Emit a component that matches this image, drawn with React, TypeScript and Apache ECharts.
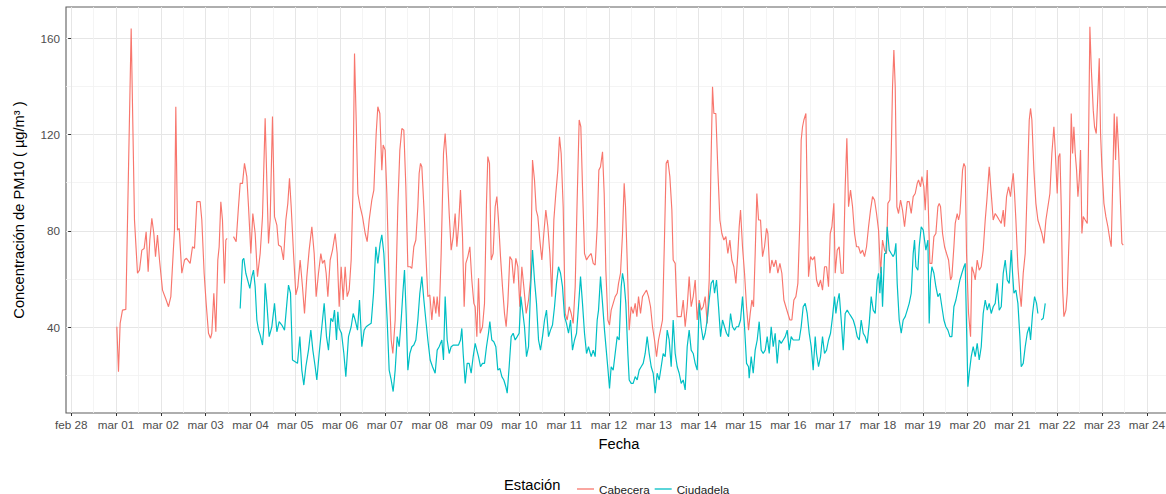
import { useEffect, useRef } from 'react';
import * as echarts from 'echarts';

// x values are days counted from feb 28 00:00 (0 = feb 28, 1 = mar 01, ...)
const xTickDays = [0, 1, 2, 3, 4, 5, 6, 7, 8, 9, 10, 11, 12, 13, 14, 15, 16, 17, 18, 19, 20, 21, 22, 23, 24];
const xTickLabels = ['feb 28', 'mar 01', 'mar 02', 'mar 03', 'mar 04', 'mar 05', 'mar 06', 'mar 07', 'mar 08', 'mar 09', 'mar 10', 'mar 11', 'mar 12', 'mar 13', 'mar 14', 'mar 15', 'mar 16', 'mar 17', 'mar 18', 'mar 19', 'mar 20', 'mar 21', 'mar 22', 'mar 23', 'mar 24'];
const xMinorDays = [0.5, 1.5, 2.5, 3.5, 4.5, 5.5, 6.5, 7.5, 8.5, 9.5, 10.5, 11.5, 12.5, 13.5, 14.5, 15.5, 16.5, 17.5, 18.5, 19.5, 20.5, 21.5, 22.5, 23.5, 24.5];
const yTicks = [40, 80, 120, 160];
const yMinorTicks = [20, 60, 100, 140];

const cabeceraTime = [
  1.019, 1.056, 1.093, 1.145, 1.220, 1.339, 1.413, 1.480, 1.525, 1.577, 1.629, 1.673, 1.718, 1.755, 1.800, 1.844, 1.882, 1.926, 1.971,
  2.038, 2.120, 2.172, 2.224, 2.276, 2.305, 2.335, 2.372, 2.410, 2.469, 2.529, 2.573, 2.655, 2.707, 2.752, 2.804, 2.878, 2.915, 2.967,
  3.012, 3.064, 3.109, 3.138, 3.183, 3.228, 3.272, 3.302, 3.339, 3.376, 3.421, 3.451, 3.480, 3.550, 3.622, 3.681, 3.733, 3.771, 3.823, 3.867, 3.919, 3.957,
  4.009, 4.053, 4.105, 4.157, 4.217, 4.269, 4.328, 4.403, 4.440, 4.492, 4.537, 4.589, 4.626, 4.685, 4.737, 4.790, 4.834, 4.871, 4.909, 4.961,
  5.013, 5.057, 5.109, 5.161, 5.206, 5.258, 5.310, 5.370, 5.422, 5.466, 5.518, 5.570, 5.608, 5.652, 5.689, 5.727, 5.779, 5.831, 5.890, 5.935, 5.980,
  6.024, 6.069, 6.113, 6.158, 6.203, 6.247, 6.284, 6.322, 6.359, 6.396, 6.448, 6.500, 6.560, 6.604, 6.649, 6.708, 6.753, 6.805, 6.842, 6.887, 6.931, 6.961,
  7.006, 7.043, 7.095, 7.140, 7.177, 7.229, 7.288, 7.333, 7.378, 7.422, 7.467, 7.512, 7.564, 7.601, 7.645, 7.690, 7.735, 7.764, 7.794, 7.824, 7.869, 7.913, 7.958,
  8.002, 8.047, 8.091, 8.136, 8.166, 8.210, 8.255, 8.307, 8.344, 8.381, 8.434, 8.478, 8.523, 8.567, 8.605, 8.642, 8.686, 8.731, 8.768, 8.805, 8.850, 8.895, 8.939, 8.984,
  9.014, 9.051, 9.088, 9.125, 9.177, 9.222, 9.266, 9.296, 9.333, 9.371, 9.415, 9.460, 9.497, 9.534, 9.579, 9.623, 9.668, 9.705, 9.742, 9.787, 9.832, 9.876, 9.921, 9.966,
  10.010, 10.055, 10.099, 10.152, 10.204, 10.248, 10.293, 10.337, 10.375, 10.412, 10.456, 10.501, 10.546, 10.590, 10.635, 10.680, 10.724, 10.769, 10.813, 10.858, 10.895, 10.932, 10.977,
  11.022, 11.066, 11.111, 11.156, 11.200, 11.245, 11.289, 11.334, 11.371, 11.408, 11.453, 11.498, 11.542, 11.602, 11.647, 11.691, 11.736, 11.773, 11.810, 11.855, 11.892, 11.929, 11.974,
  12.011, 12.048, 12.093, 12.137, 12.182, 12.212, 12.256, 12.301, 12.338, 12.368, 12.405, 12.450, 12.494, 12.539, 12.584, 12.621, 12.658, 12.703, 12.747, 12.792, 12.836, 12.881, 12.926, 12.970,
  13.015, 13.060, 13.104, 13.149, 13.193, 13.238, 13.275, 13.312, 13.357, 13.402, 13.431, 13.476, 13.521, 13.565, 13.610, 13.655, 13.699, 13.744, 13.788, 13.833, 13.878, 13.922, 13.967,
  14.012, 14.056, 14.101, 14.145, 14.190, 14.235, 14.272, 14.309, 14.339, 14.383, 14.428, 14.473, 14.517, 14.562, 14.607, 14.651, 14.696, 14.740, 14.785, 14.830, 14.874, 14.904, 14.934, 14.978,
  15.023, 15.068, 15.112, 15.150, 15.187, 15.224, 15.261, 15.298, 15.336, 15.380, 15.425, 15.469, 15.514, 15.544, 15.588, 15.633, 15.678, 15.722, 15.767, 15.812, 15.856, 15.901, 15.945, 15.990,
  16.035, 16.079, 16.124, 16.169, 16.213, 16.258, 16.287, 16.317, 16.347, 16.392, 16.421, 16.451, 16.496, 16.540, 16.585, 16.630, 16.674, 16.719, 16.763, 16.808, 16.853, 16.897, 16.935, 16.972,
  17.016, 17.046, 17.091, 17.135, 17.180, 17.225, 17.269, 17.306, 17.344, 17.388, 17.433, 17.477, 17.522, 17.567, 17.611, 17.656, 17.701, 17.745, 17.790, 17.834, 17.879, 17.924, 17.968,
  18.013, 18.058, 18.102, 18.147, 18.191, 18.221, 18.266, 18.296, 18.325, 18.355, 18.385, 18.422, 18.459, 18.504, 18.548, 18.593, 18.653, 18.697, 18.742, 18.786, 18.831, 18.876, 18.905, 18.950, 18.980,
  19.024, 19.054, 19.099, 19.129, 19.158, 19.203, 19.248, 19.292, 19.337, 19.367, 19.396, 19.441, 19.486, 19.530, 19.575, 19.620, 19.649, 19.694, 19.724, 19.768, 19.798, 19.828, 19.857, 19.887, 19.917, 19.947, 19.976,
  20.021, 20.066, 20.095, 20.140, 20.170, 20.214, 20.259, 20.304, 20.348, 20.393, 20.430, 20.482, 20.527, 20.571, 20.616, 20.661, 20.705, 20.750, 20.795, 20.824, 20.869, 20.914, 20.958, 20.988,
  21.018, 21.047, 21.077, 21.122, 21.166, 21.196, 21.241, 21.285, 21.330, 21.375, 21.404, 21.434, 21.479, 21.523, 21.568, 21.613, 21.657, 21.702, 21.747, 21.791, 21.836, 21.880, 21.925, 21.955, 21.999,
  22.029, 22.059, 22.089, 22.118, 22.148, 22.193, 22.223, 22.267, 22.312, 22.342, 22.371, 22.401, 22.431, 22.461, 22.490, 22.520, 22.550, 22.580, 22.624, 22.669, 22.699, 22.728, 22.758, 22.803, 22.832, 22.870, 22.907, 22.937, 22.966, 22.996,
  23.041, 23.085, 23.130, 23.175, 23.204, 23.242, 23.271, 23.301, 23.331, 23.368, 23.413, 23.442, 23.472,
];
const cabeceraPM10 = [
  40.2, 21.5, 41.6, 47.1, 47.4, 164.0, 84.5, 62.4, 63.7, 72.0, 72.7, 79.6, 63.0, 76.2, 85.2, 79.0, 69.3, 78.3, 67.9,
  55.4, 51.3, 48.5, 52.7, 70.6, 80.3, 131.5, 80.3, 81.0, 62.4, 67.9, 68.6, 66.5, 73.4, 72.7, 92.1, 92.1, 84.5, 62.4,
  49.9, 37.5, 35.4, 37.5, 54.1, 38.1, 67.9, 73.4, 92.1, 84.5, 58.2, 76.2, 76.9, null, 77.6, 75.5, 90.0, 99.7, 99.7, 108.0, 102.5, 90.0,
  70.6, 87.2, 79.0, 61.0, 70.6, 85.9, 126.7, 74.8, 84.5, 127.4, 85.9, 82.4, 74.1, 73.4, 67.9, 84.5, 91.4, 101.8, 90.0, 70.6,
  53.4, 56.8, 67.9, 56.8, 45.7, 61.0, 72.0, 81.7, 70.6, 52.7, 62.4, 70.6, 66.5, 67.9, 62.4, 52.7, 67.9, 72.0, 78.9, 70.6, 48.5,
  65.1, 51.3, 65.1, 52.7, 55.4, 67.9, 94.2, 153.6, 126.0, 95.5, 90.0, 85.9, 78.9, 75.5, 84.5, 92.8, 96.9, 120.4, 131.5, 128.7, 105.2, 115.6,
  113.5, 95.5, 56.8, 34.7, 29.1, 43.0, 90.0, 113.5, 122.5, 121.8, 98.3, 65.1, 65.1, 64.4, 73.4, 76.2, 90.0, 103.9, 108.0, 106.6, 90.0, 70.6, 52.7,
  53.4, 43.0, 52.7, 45.7, 52.7, 44.4, 70.6, 112.1, 120.4, 109.4, 87.2, 72.0, 77.6, 87.2, 73.4, 81.7, 96.9, 77.6, 48.5, 66.5, 69.3, 73.4, 59.6, 49.9,
  48.5, 36.1, 60.3, 37.5, 40.2, 49.9, 91.4, 110.8, 108.0, 67.9, 70.6, 90.0, 94.2, 84.5, 69.3, 56.8, 45.7, 40.2, 49.9, 69.3, 67.9, 58.2, 68.6, 65.1,
  48.5, 65.1, 56.8, 45.7, 51.3, 59.6, 109.4, 101.1, 88.6, 85.9, 76.2, 67.9, 79.0, 88.6, 81.7, 70.6, 52.7, 84.5, 95.5, 105.2, 119.0, 112.1, 90.0,
  45.7, 43.0, 48.5, 45.7, 41.6, 56.8, 92.8, 126.0, 123.2, 98.3, 70.6, 67.9, 69.3, 70.6, 66.5, 65.8, 81.7, 105.2, 106.6, 112.8, 95.5, 63.7, 43.0,
  40.9, 47.1, 49.9, 52.7, 54.1, 58.2, 62.4, 78.9, 99.7, 90.0, 67.9, 38.8, 48.5, 45.7, 49.9, 44.4, 52.7, 45.7, 52.7, 54.1, 55.4, 52.7, 48.5, 40.2,
  34.7, 27.8, 34.7, 38.8, 43.0, 77.6, 108.0, 109.4, 102.5, 88.6, 67.9, 66.5, 44.4, 44.4, 44.4, 51.3, 40.2, 48.5, 61.0, 48.5, 52.7, 59.6, 43.0,
  51.3, 47.1, 48.5, 52.7, 41.6, 59.6, 105.2, 139.8, 128.7, 128.7, 105.2, 84.5, 78.9, 76.2, 77.6, 70.6, 76.2, 67.9, 65.1, 58.2, 70.6, 81.7, 88.6, 73.4,
  62.4, 48.5, 38.8, 45.7, 51.3, 48.5, 70.6, 95.5, 84.5, 84.5, 69.3, 73.4, 81.0, 78.9, 62.4, 67.9, 65.1, 67.9, 62.4, 66.5, 62.4, 51.3, 48.5, 45.7,
  43.0, 43.0, 51.3, 52.7, 58.2, 84.5, 117.7, 123.2, 126.0, 128.7, 95.5, 61.0, 69.3, 67.9, 69.3, 59.6, 56.8, 59.6, 55.4, 65.1, 65.1, 56.8, 78.9, 81.7,
  91.4, 62.4, 72.0, 73.4, 62.4, 62.4, 98.3, 118.4, 90.0, 96.9, 90.0, 78.9, 73.4, 73.4, 70.6, 72.0, 69.3, 73.4, 81.7, 88.6, 94.2, 92.8, 87.2,
  80.3, 62.4, 76.2, 72.0, 70.6, 91.4, 92.8, 112.1, 139.8, 155.0, 139.8, 90.0, 87.2, 92.8, 88.6, 81.7, 92.1, 92.1, 87.2, 94.2, 95.5, 99.7, 101.1, 98.3, 102.5,
  98.3, 88.6, 105.2, 85.9, 66.5, 66.5, 77.6, 78.9, 90.0, 91.4, 90.0, 78.9, 73.4, 70.6, 67.9, 59.6, 61.0, 73.4, 83.1, 87.2, 84.5, 87.2, 95.5, 105.2, 108.0, 106.6, 70.6,
  45.7, 36.1, 65.1, 62.4, 59.6, 67.9, 63.7, 65.1, 72.0, 84.5, 92.8, 106.6, 95.5, 84.5, 87.2, 85.9, 84.5, 83.1, 88.6, 81.7, 94.2, 98.3, 94.2, 99.7,
  103.9, 95.5, 84.5, 65.1, 54.1, 48.5, 62.4, 70.6, 98.3, 126.0, 130.8, 126.0, 105.2, 91.4, 84.5, 81.7, 78.9, 74.8, 84.5, 90.0, 95.5, 112.1, 123.2, 113.5, 95.5,
  110.8, 112.1, 90.0, 56.8, 44.4, 47.1, 54.1, 78.9, 128.7, 112.1, 123.2, 112.1, 105.2, 94.2, 101.1, 113.5, 78.9, 85.9, 84.5, 83.1, 117.7, 164.7, 148.1, 130.1, 123.2, 120.4, 137.0, 151.6, 120.4, 106.6,
  91.4, 85.9, 81.7, 76.2, 73.4, 103.9, 128.7, 109.4, 127.4, 113.5, 90.0, 74.8, 74.1,
];

const ciudadelaTime = [
  3.771, 3.823, 3.852, 3.897, 3.957, 3.986, 4.031, 4.068, 4.105, 4.143, 4.180, 4.217, 4.269, 4.299, 4.328, 4.366, 4.418, 4.477, 4.537, 4.589, 4.641, 4.700, 4.760, 4.812, 4.849, 4.894, 4.938, 4.998,
  5.050, 5.102, 5.146, 5.191, 5.236, 5.295, 5.347, 5.392, 5.444, 5.481, 5.533, 5.593, 5.645, 5.697, 5.741, 5.794, 5.838, 5.875, 5.920, 5.950, 5.980,
  6.032, 6.084, 6.128, 6.188, 6.247, 6.292, 6.336, 6.389, 6.433, 6.485, 6.537, 6.582, 6.634, 6.693, 6.746, 6.798, 6.842, 6.894, 6.931, 6.976,
  7.006, 7.050, 7.095, 7.140, 7.184, 7.229, 7.274, 7.318, 7.363, 7.400, 7.437, 7.474, 7.512, 7.556, 7.601, 7.645, 7.690, 7.735, 7.779, 7.824, 7.869, 7.913, 7.958,
  8.010, 8.062, 8.121, 8.166, 8.210, 8.270, 8.307, 8.344, 8.389, 8.434, 8.478, 8.530, 8.582, 8.642, 8.686, 8.716, 8.746, 8.791, 8.835, 8.880, 8.924, 8.969,
  9.014, 9.051, 9.088, 9.133, 9.177, 9.222, 9.266, 9.311, 9.341, 9.385, 9.430, 9.475, 9.519, 9.564, 9.609, 9.653, 9.698, 9.728, 9.772, 9.817, 9.861, 9.906, 9.951, 9.995,
  10.033, 10.070, 10.114, 10.159, 10.204, 10.248, 10.293, 10.337, 10.382, 10.427, 10.471, 10.516, 10.561, 10.605, 10.650, 10.694, 10.739, 10.784, 10.828, 10.873, 10.918, 10.962,
  11.007, 11.051, 11.096, 11.141, 11.185, 11.230, 11.275, 11.319, 11.364, 11.408, 11.453, 11.498, 11.542, 11.602, 11.647, 11.691, 11.736, 11.766, 11.810, 11.855, 11.899, 11.974,
  12.011, 12.048, 12.093, 12.137, 12.182, 12.227, 12.271, 12.301, 12.338, 12.375, 12.420, 12.450, 12.494, 12.539, 12.584, 12.628, 12.673, 12.717, 12.762, 12.807, 12.851, 12.896, 12.941, 12.985,
  13.030, 13.074, 13.119, 13.164, 13.208, 13.253, 13.298, 13.342, 13.387, 13.431, 13.476, 13.521, 13.565, 13.610, 13.655, 13.699, 13.744, 13.788, 13.833, 13.878, 13.922, 13.967,
  14.012, 14.056, 14.101, 14.145, 14.190, 14.235, 14.279, 14.324, 14.354, 14.398, 14.443, 14.488, 14.532, 14.577, 14.621, 14.666, 14.711, 14.755, 14.800, 14.844, 14.889, 14.934, 14.978,
  15.023, 15.068, 15.112, 15.127, 15.172, 15.217, 15.261, 15.306, 15.350, 15.395, 15.440, 15.484, 15.529, 15.574, 15.618, 15.663, 15.707, 15.752, 15.797, 15.841, 15.886, 15.931, 15.975,
  16.020, 16.064, 16.109, 16.154, 16.198, 16.243, 16.287, 16.332, 16.377, 16.421, 16.466, 16.511, 16.555, 16.600, 16.630, 16.674, 16.719, 16.763, 16.808, 16.853, 16.897, 16.942, 16.987,
  17.031, 17.061, 17.091, 17.135, 17.180, 17.225, 17.269, 17.314, 17.358, 17.403, 17.448, 17.492, 17.537, 17.582, 17.626, 17.671, 17.715, 17.760, 17.805, 17.849, 17.894, 17.939, 17.983,
  18.013, 18.043, 18.072, 18.102, 18.147, 18.177, 18.206, 18.251, 18.296, 18.340, 18.370, 18.400, 18.429, 18.474, 18.519, 18.563, 18.608, 18.653, 18.697, 18.742, 18.786, 18.816, 18.846, 18.891, 18.920, 18.965,
  19.010, 19.039, 19.069, 19.114, 19.143, 19.173, 19.203, 19.248, 19.292, 19.337, 19.381, 19.426, 19.471, 19.515, 19.560, 19.605, 19.649, 19.694, 19.739, 19.783, 19.828, 19.872, 19.917, 19.947, 19.976,
  20.006, 20.036, 20.081, 20.125, 20.170, 20.214, 20.259, 20.304, 20.348, 20.393, 20.438, 20.482, 20.527, 20.571, 20.616, 20.661, 20.705, 20.750, 20.795, 20.839, 20.884, 20.928, 20.973,
  21.003, 21.033, 21.077, 21.122, 21.166, 21.196, 21.241, 21.285, 21.330, 21.375, 21.404, 21.449, 21.494, 21.538, 21.568, 21.605, 21.642, 21.687, 21.732,
];
const ciudadelaPM10 = [
  47.8, 67.9, 68.6, 62.4, 58.2, 56.1, 61.0, 63.7, 56.8, 43.0, 38.8, 36.7, 32.6, 40.2, 58.2, 49.9, 36.1, 40.2, 49.9, 38.1, 42.3, 40.9, 38.8, 49.9, 57.5, 54.1, 26.4, 25.7,
  25.0, 36.1, 22.2, 16.0, 23.6, 30.5, 38.8, 30.5, 23.6, 18.1, 29.1, 40.2, 49.9, 36.1, 30.5, 43.7, 42.3, 47.1, 34.7, 46.4, 39.5,
  37.5, 29.1, 19.5, 36.1, 40.2, 45.7, 43.0, 38.8, 51.3, 31.9, 38.8, 40.2, 40.9, 41.6, 54.1, 73.4, 66.5, 74.8, 78.3, 70.6,
  59.6, 43.0, 22.2, 18.1, 13.3, 22.2, 36.1, 31.9, 43.0, 54.1, 63.7, 45.7, 22.2, 29.1, 31.9, 32.6, 34.7, 43.0, 54.1, 61.0, 51.3, 43.0, 34.7,
  26.4, 23.6, 20.9, 30.5, 31.9, 34.7, 26.4, 52.7, 34.7, 29.1, 31.9, 32.6, 32.6, 32.6, 34.7, 39.5, 29.1, 16.7, 25.0, 25.0, 20.9, 27.8,
  33.3, 30.5, 27.8, 23.6, 25.0, 25.0, 31.9, 37.5, 42.3, 34.7, 34.0, 31.9, 22.2, 22.9, 19.5, 18.1, 15.3, 12.6, 23.6, 36.1, 37.5, 34.7, 36.1, 37.5,
  52.7, 47.1, 40.2, 27.8, 31.9, 55.4, 72.0, 59.6, 49.9, 34.7, 30.5, 36.1, 43.0, 47.1, 36.1, 38.8, 40.9, 48.5, 58.2, 65.1, 62.4, 56.8,
  44.4, 41.6, 37.5, 43.0, 30.5, 34.7, 37.5, 48.5, 61.0, 49.9, 37.5, 29.1, 31.9, 27.8, 30.5, 27.8, 43.0, 47.1, 61.0, 49.9, 38.8, 22.9,
  14.6, 23.6, 22.2, 29.1, 36.1, 34.7, 56.8, 62.4, 58.2, 49.9, 29.1, 18.1, 16.7, 16.7, 19.5, 18.1, 22.2, 23.6, 25.0, 29.1, 36.1, 29.1, 23.6, 20.9,
  12.6, 20.9, 18.1, 23.6, 29.1, 27.8, 38.8, 34.7, 23.6, 43.0, 29.1, 23.6, 20.9, 16.7, 18.1, 14.0, 31.9, 38.8, 30.5, 29.1, 25.0, 22.2,
  49.9, 40.2, 34.7, 37.5, 43.0, 51.3, 58.2, 59.6, 54.1, 59.6, 48.5, 36.1, 43.0, 40.2, 37.5, 36.1, 45.7, 40.2, 38.8, 40.2, 40.2, 43.0, 52.7,
  40.2, 25.0, 23.6, 18.8, 27.8, 20.9, 30.5, 34.7, 42.3, 30.5, 29.1, 30.5, 36.1, 29.1, 40.2, 31.9, 37.5, 25.0, 34.7, 33.3, 34.7, 36.1, 38.8,
  30.5, 36.1, 34.7, 34.7, 34.7, 34.7, 40.2, 48.5, 49.9, 45.7, 37.5, 31.9, 22.2, 36.1, 29.1, 23.6, 27.8, 36.1, 29.1, 30.5, 34.7, 37.5, 44.4,
  52.7, 45.7, 49.9, 54.1, 43.0, 30.5, 45.7, 47.1, 45.7, 44.4, 43.0, 40.2, 36.1, 34.7, 43.0, 37.5, 36.1, 33.3, 41.6, 52.7, 47.1, 45.7, 59.6,
  62.4, 54.1, 65.1, 48.5, 70.6, 70.6, 81.7, 72.0, 70.6, 69.3, 70.6, 74.8, 58.2, 43.0, 37.5, 43.0, 44.4, 47.1, 49.9, 54.1, 70.6, 76.2, 65.1, 63.7, 73.4, 81.7,
  80.3, 76.2, 72.0, 76.2, 41.6, 59.6, 65.1, 62.4, 56.8, 52.7, 54.1, 48.5, 43.0, 40.2, 38.8, 36.1, 36.1, 48.5, 51.3, 55.4, 59.6, 62.4, 65.1, 66.5, 40.2,
  15.3, 20.9, 27.8, 31.9, 27.8, 33.3, 26.4, 31.9, 45.7, 51.3, 47.1, 49.9, 45.7, 48.5, 49.9, 58.2, 47.1, 48.5, 62.4, 67.9, 59.6, 58.2, 72.0,
  62.4, 54.1, 55.4, 49.9, 36.1, 23.6, 25.0, 31.9, 37.5, 40.2, 34.7, 45.7, 52.7, 49.9, 45.7, null, 43.0, 43.7, 49.9,
];

const FONT = '"Liberation Sans", Arial, Helvetica, sans-serif';
const RED = '#F8766D';
const TEAL = '#00BFC4';

const toSeries = (t: number[], v: (number | null)[]) => t.map((x, i) => [x, v[i] === null ? '-' : v[i]]);

export default function App() {
  const ref = useRef<HTMLDivElement>(null);

  useEffect(() => {
    document.body.style.margin = '0';
    const chart = echarts.init(ref.current!, null, { renderer: 'svg' });
    const xMin = -0.115;
    const xMax = 24.56;
    const yMin = 4.4;
    const yMax = 172.9;
    chart.setOption({
      animation: false,
      backgroundColor: '#ffffff',
      textStyle: { fontFamily: FONT },
      grid: {
        left: 66,
        right: -6,
        top: 7,
        bottom: 81,
        containLabel: false,
        outerBoundsMode: 'none',
        show: true,
        borderColor: '#5e5e5e',
        borderWidth: 1.1,
        backgroundColor: 'transparent',
      },
      legend: {
        data: ['Cabecera', 'Ciudadela'],
        left: 572,
        top: 478,
        orient: 'horizontal',
        icon: 'rect',
        itemWidth: 17,
        itemHeight: 1.3,
        itemGap: 5,
        selectedMode: false,
        textStyle: { fontFamily: FONT, fontSize: 11.7, color: '#1a1a1a' },
      },
      graphic: [
        {
          type: 'text',
          left: 504,
          top: 477,
          style: { text: 'Estación', font: `14.7px ${FONT}`, fill: '#000000' },
        },
      ],
      xAxis: [
        {
          type: 'value',
          min: xMin,
          max: xMax,
          name: 'Fecha',
          nameLocation: 'middle',
          nameGap: 23,
          nameTextStyle: { fontFamily: FONT, fontSize: 14.7, color: '#000000' },
          axisLine: { show: false },
          axisTick: { show: true, inside: false, length: 3, customValues: xTickDays, lineStyle: { color: '#333333', width: 1 } },
          axisLabel: {
            show: true,
            customValues: xTickDays,
            margin: 5,
            fontFamily: FONT,
            fontSize: 11.7,
            color: '#4D4D4D',
            formatter: (v: number) => xTickLabels[Math.round(v)] ?? '',
          },
          splitLine: { show: true, lineStyle: { color: '#E6E6E6', width: 1 } },
        },
        {
          type: 'value',
          min: xMin,
          max: xMax,
          axisLine: { show: false },
          axisTick: { show: false, customValues: xMinorDays },
          axisLabel: { show: false, customValues: xMinorDays },
          splitLine: { show: true, lineStyle: { color: '#F1F1F1', width: 0.8 } },
        },
      ],
      yAxis: [
        {
          type: 'value',
          min: yMin,
          max: yMax,
          name: 'Concentración de PM10 ( µg/m³ )',
          nameLocation: 'middle',
          nameRotate: 90,
          nameGap: 40,
          nameTextStyle: { fontFamily: FONT, fontSize: 14.7, color: '#000000' },
          axisLine: { show: false },
          axisTick: { show: true, inside: false, length: 3, customValues: yTicks, lineStyle: { color: '#333333', width: 1 } },
          axisLabel: {
            show: true,
            customValues: yTicks,
            margin: 6,
            fontFamily: FONT,
            fontSize: 11.7,
            color: '#4D4D4D',
          },
          splitLine: { show: true, lineStyle: { color: '#E6E6E6', width: 1 } },
        },
        {
          type: 'value',
          min: yMin,
          max: yMax,
          axisLine: { show: false },
          axisTick: { show: false, customValues: yMinorTicks },
          axisLabel: { show: false, customValues: yMinorTicks },
          splitLine: { show: true, lineStyle: { color: '#F1F1F1', width: 0.8 } },
        },
      ],
      series: [
        {
          name: 'Cabecera',
          type: 'line',
          xAxisIndex: 0,
          yAxisIndex: 0,
          data: toSeries(cabeceraTime, cabeceraPM10),
          showSymbol: false,
          symbol: 'none',
          connectNulls: false,
          color: RED,
          lineStyle: { color: RED, width: 1.15 },
          emphasis: { disabled: true },
          z: 3,
        },
        {
          name: 'Ciudadela',
          type: 'line',
          xAxisIndex: 0,
          yAxisIndex: 0,
          data: toSeries(ciudadelaTime, ciudadelaPM10),
          showSymbol: false,
          symbol: 'none',
          connectNulls: false,
          color: TEAL,
          lineStyle: { color: TEAL, width: 1.2 },
          emphasis: { disabled: true },
          z: 4,
        },
      ],
    });
    return () => chart.dispose();
  }, []);

  return <div ref={ref} style={{ width: 1166, height: 494 }} />;
}
